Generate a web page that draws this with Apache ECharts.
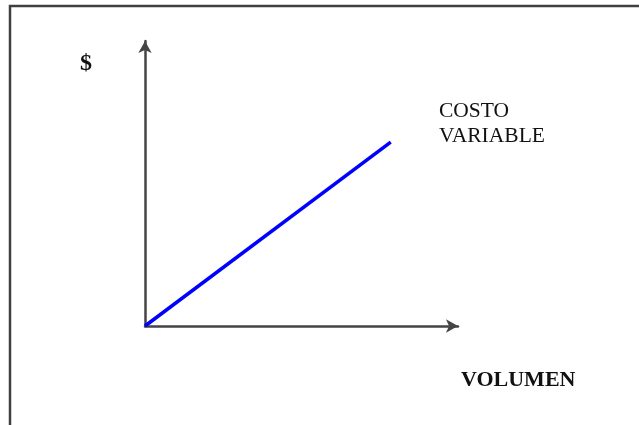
<!DOCTYPE html>
<html>
<head>
<meta charset="utf-8">
<script src="https://cdn.jsdelivr.net/npm/echarts@6/dist/echarts.min.js"></script>
<style>
html,body{margin:0;padding:0;background:#fff;}
#c{width:639px;height:425px;}
</style>
</head>
<body>
<div id="c"></div>
<script>
// Data
const volumen = [0, 78.5];
const costoVariable = [0, 64.5];
const yLabel = '$';
const xLabel = 'VOLUMEN';
const seriesLabel = ['COSTO', 'VARIABLE'];

const chart = echarts.init(document.getElementById('c'));
const serif = '"Liberation Serif", "DejaVu Serif", serif';
const axisColor = '#444';

chart.setOption({
  animation: false,
  backgroundColor: '#fff',
  grid: { left: 145, right: 181, top: 41, bottom: 99 },
  xAxis: {
    type: 'value', min: 0, max: 100,
    axisLine: { show: true, symbol: ['none', 'arrow'], symbolSize: [10, 12],
      lineStyle: { color: axisColor, width: 2.5 } },
    axisTick: { show: false }, axisLabel: { show: false }, splitLine: { show: false }
  },
  yAxis: {
    type: 'value', min: 0, max: 100,
    axisLine: { show: true, symbol: ['none', 'arrow'], symbolSize: [10, 12],
      lineStyle: { color: axisColor, width: 2.5 } },
    axisTick: { show: false }, axisLabel: { show: false }, splitLine: { show: false }
  },
  series: [{
    type: 'line',
    data: volumen.map((v, i) => [v, costoVariable[i]]),
    showSymbol: false,
    lineStyle: { color: '#0000ff', width: 3.5 },
    z: 1
  }],
  graphic: [
    { type: 'rect', shape: { x: 10, y: 6, width: 700, height: 500 },
      style: { fill: 'none', stroke: '#404040', lineWidth: 2.5 }, silent: true },
    { type: 'text', left: 80, top: 52,
      style: { text: yLabel, font: 'bold 24px ' + serif, fill: '#111' } },
    { type: 'text', left: 439, top: 99,
      style: { text: seriesLabel.join('\n'), font: '21.5px ' + serif, lineHeight: 25, fill: '#111' } },
    { type: 'text', left: 461, top: 369,
      style: { text: xLabel, font: 'bold 22px ' + serif, fill: '#111' } }
  ]
});
</script>
</body>
</html>
